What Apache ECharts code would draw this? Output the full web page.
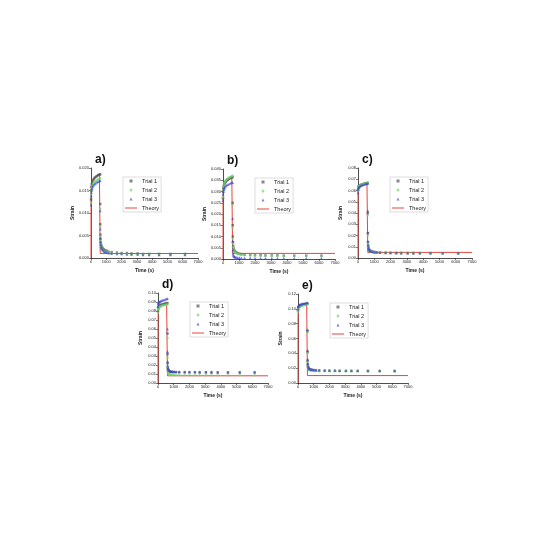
<!DOCTYPE html>
<html>
<head>
<meta charset="utf-8">
<script src="https://cdn.jsdelivr.net/npm/echarts@6/dist/echarts.min.js"></script>
<style>
  html, body { margin: 0; padding: 0; background: #fff; }
  #chart { width: 550px; height: 550px; }
</style>
</head>
<body>
<div id="chart"></div>
<script>
// measurement times (s), shared by all trials
const trialTimes = [0, 10, 25, 50, 80, 120, 170, 230, 300, 380, 460, 540, 600, 604, 608, 615, 625, 640, 660, 690, 730, 780, 850, 930, 1030, 1150, 1350, 1700, 2000, 2350, 2650, 3050, 3400, 3800, 4450, 5200, 6150]
const theoryTimes = [0, 3, 15, 40, 80, 150, 250, 350, 450, 550, 600, 601, 7000]

const panelLabels = ['a)', 'b)', 'c)', 'd)', 'e)']
const yMax = [0.02, 0.04, 0.08, 0.10, 0.12]
const yStep = [0.005, 0.005, 0.01, 0.01, 0.02]
const yDecimals = [3, 3, 2, 2, 2]

const trial1A = [0.0130, 0.0150, 0.0158, 0.0164, 0.0168, 0.0172, 0.0175, 0.0178, 0.0180, 0.0182, 0.0184, 0.0185, 0.0186, 0.0120, 0.0075, 0.0052, 0.0042, 0.0035, 0.0030, 0.0026, 0.0023, 0.0021, 0.0019, 0.0017, 0.0016, 0.0014, 0.0013, 0.0012, 0.0011, 0.0011, 0.0010, 0.0010, 0.0009, 0.0009, 0.0009, 0.0009, 0.0009]
const trial2A = [0.0122, 0.0142, 0.0150, 0.0156, 0.0160, 0.0164, 0.0167, 0.0169, 0.0171, 0.0173, 0.0175, 0.0176, 0.0177, 0.0110, 0.0068, 0.0047, 0.0038, 0.0032, 0.0027, 0.0023, 0.0020, 0.0018, 0.0016, 0.0015, 0.0014, 0.0012, 0.0011, 0.0010, 0.0009, 0.0009, 0.0008, 0.0008, 0.0008, 0.0008, 0.0007, 0.0007, 0.0007]
const trial3A = [0.0118, 0.0138, 0.0146, 0.0151, 0.0155, 0.0159, 0.0162, 0.0164, 0.0166, 0.0168, 0.0170, 0.0171, 0.0172, 0.0105, 0.0064, 0.0045, 0.0036, 0.0030, 0.0025, 0.0022, 0.0019, 0.0017, 0.0015, 0.0014, 0.0013, 0.0011, 0.0010, 0.0009, 0.0009, 0.0008, 0.0008, 0.0008, 0.0007, 0.0007, 0.0007, 0.0007, 0.0007]
const theoryA = [0, 0.0140, 0.0155, 0.0163, 0.0169, 0.0175, 0.0179, 0.0182, 0.0185, 0.0187, 0.0188, 0.0010, 0.0010]

const trial1B = [0.0270, 0.0300, 0.0315, 0.0325, 0.0332, 0.0338, 0.0343, 0.0348, 0.0352, 0.0356, 0.0359, 0.0362, 0.0364, 0.0250, 0.0150, 0.0100, 0.0075, 0.0058, 0.0047, 0.0040, 0.0035, 0.0031, 0.0028, 0.0025, 0.0023, 0.0021, 0.0019, 0.0018, 0.0017, 0.0017, 0.0016, 0.0016, 0.0016, 0.0015, 0.0015, 0.0015, 0.0015]
const trial2B = [0.0275, 0.0305, 0.0320, 0.0330, 0.0338, 0.0344, 0.0349, 0.0354, 0.0358, 0.0362, 0.0365, 0.0368, 0.0370, 0.0240, 0.0140, 0.0090, 0.0068, 0.0052, 0.0042, 0.0036, 0.0031, 0.0028, 0.0025, 0.0023, 0.0021, 0.0019, 0.0017, 0.0016, 0.0015, 0.0015, 0.0014, 0.0014, 0.0014, 0.0013, 0.0013, 0.0013, 0.0013]
const trial3B = [0.0260, 0.0288, 0.0300, 0.0308, 0.0314, 0.0319, 0.0324, 0.0328, 0.0331, 0.0334, 0.0337, 0.0339, 0.0340, 0.0180, 0.0080, 0.0040, 0.0025, 0.0018, 0.0014, 0.0011, 0.0009, 0.0008, 0.0007, 0.0006, 0.0006, 0.0005, 0.0005, 0.0005, 0.0004, 0.0004, 0.0004, 0.0004, 0.0004, 0.0004, 0.0004, 0.0004, 0.0004]
const theoryB = [0, 0.0290, 0.0315, 0.0330, 0.0340, 0.0349, 0.0356, 0.0361, 0.0365, 0.0368, 0.0370, 0.0025, 0.0025]

const trial1C = [0.0600, 0.0625, 0.0632, 0.0637, 0.0641, 0.0645, 0.0649, 0.0653, 0.0656, 0.0659, 0.0662, 0.0665, 0.0667, 0.0400, 0.0220, 0.0140, 0.0110, 0.0090, 0.0080, 0.0072, 0.0066, 0.0062, 0.0058, 0.0055, 0.0053, 0.0051, 0.0049, 0.0047, 0.0046, 0.0045, 0.0045, 0.0044, 0.0044, 0.0044, 0.0044, 0.0043, 0.0043]
const trial2C = [0.0595, 0.0622, 0.0630, 0.0636, 0.0641, 0.0646, 0.0650, 0.0654, 0.0658, 0.0661, 0.0664, 0.0667, 0.0669, 0.0380, 0.0200, 0.0130, 0.0100, 0.0085, 0.0075, 0.0068, 0.0062, 0.0058, 0.0055, 0.0052, 0.0050, 0.0048, 0.0046, 0.0045, 0.0044, 0.0043, 0.0043, 0.0042, 0.0042, 0.0042, 0.0042, 0.0042, 0.0042]
const trial3C = [0.0580, 0.0610, 0.0620, 0.0627, 0.0633, 0.0638, 0.0643, 0.0647, 0.0651, 0.0655, 0.0658, 0.0661, 0.0663, 0.0420, 0.0230, 0.0150, 0.0115, 0.0095, 0.0082, 0.0073, 0.0067, 0.0062, 0.0058, 0.0055, 0.0052, 0.0050, 0.0048, 0.0046, 0.0045, 0.0045, 0.0044, 0.0044, 0.0044, 0.0043, 0.0043, 0.0043, 0.0043]
const theoryC = [0, 0.0560, 0.0600, 0.0620, 0.0635, 0.0648, 0.0658, 0.0665, 0.0670, 0.0674, 0.0676, 0.0050, 0.0050]

const trial1D = [0.0800, 0.0830, 0.0840, 0.0848, 0.0855, 0.0861, 0.0866, 0.0870, 0.0874, 0.0878, 0.0882, 0.0885, 0.0888, 0.0550, 0.0320, 0.0220, 0.0175, 0.0152, 0.0140, 0.0133, 0.0128, 0.0125, 0.0123, 0.0122, 0.0121, 0.0120, 0.0120, 0.0120, 0.0119, 0.0119, 0.0119, 0.0119, 0.0118, 0.0118, 0.0118, 0.0118, 0.0118]
const trial2D = [0.0780, 0.0815, 0.0826, 0.0834, 0.0841, 0.0847, 0.0852, 0.0857, 0.0861, 0.0865, 0.0868, 0.0871, 0.0873, 0.0500, 0.0280, 0.0180, 0.0140, 0.0120, 0.0108, 0.0101, 0.0097, 0.0094, 0.0092, 0.0091, 0.0090, 0.0089, 0.0088, 0.0088, 0.0087, 0.0087, 0.0087, 0.0087, 0.0087, 0.0087, 0.0087, 0.0087, 0.0087]
const trial3D = [0.0850, 0.0880, 0.0888, 0.0895, 0.0900, 0.0905, 0.0910, 0.0915, 0.0920, 0.0925, 0.0930, 0.0934, 0.0937, 0.0600, 0.0350, 0.0240, 0.0190, 0.0165, 0.0150, 0.0142, 0.0137, 0.0133, 0.0130, 0.0128, 0.0127, 0.0126, 0.0125, 0.0124, 0.0123, 0.0123, 0.0122, 0.0122, 0.0122, 0.0121, 0.0121, 0.0121, 0.0121]
const theoryD = [0, 0.0700, 0.0780, 0.0815, 0.0835, 0.0850, 0.0860, 0.0867, 0.0873, 0.0877, 0.0880, 0.0080, 0.0080]

const trial1E = [0.0980, 0.1010, 0.1020, 0.1028, 0.1035, 0.1041, 0.1046, 0.1051, 0.1055, 0.1059, 0.1063, 0.1066, 0.1068, 0.0700, 0.0420, 0.0300, 0.0250, 0.0220, 0.0202, 0.0192, 0.0185, 0.0180, 0.0177, 0.0175, 0.0173, 0.0171, 0.0169, 0.0167, 0.0166, 0.0165, 0.0164, 0.0164, 0.0163, 0.0163, 0.0162, 0.0162, 0.0162]
const trial2E = [0.0960, 0.0995, 0.1006, 0.1015, 0.1022, 0.1029, 0.1035, 0.1040, 0.1045, 0.1049, 0.1053, 0.1056, 0.1058, 0.0680, 0.0400, 0.0280, 0.0230, 0.0205, 0.0190, 0.0180, 0.0174, 0.0170, 0.0167, 0.0165, 0.0163, 0.0161, 0.0160, 0.0159, 0.0158, 0.0158, 0.0157, 0.0157, 0.0157, 0.0157, 0.0156, 0.0156, 0.0156]
const trial3E = [0.1000, 0.1030, 0.1040, 0.1047, 0.1053, 0.1058, 0.1063, 0.1067, 0.1071, 0.1075, 0.1078, 0.1081, 0.1083, 0.0720, 0.0440, 0.0320, 0.0265, 0.0232, 0.0212, 0.0200, 0.0192, 0.0186, 0.0182, 0.0179, 0.0177, 0.0175, 0.0173, 0.0171, 0.0170, 0.0169, 0.0168, 0.0168, 0.0167, 0.0167, 0.0167, 0.0166, 0.0166]
const theoryE = [0, 0.0880, 0.0960, 0.1000, 0.1025, 0.1043, 0.1055, 0.1063, 0.1069, 0.1073, 0.1075, 0.0100, 0.0100]

const trial1 = [trial1A, trial1B, trial1C, trial1D, trial1E]
const trial2 = [trial2A, trial2B, trial2C, trial2D, trial2E]
const trial3 = [trial3A, trial3B, trial3C, trial3D, trial3E]
const theory = [theoryA, theoryB, theoryC, theoryD, theoryE]

// plot boxes in pixels: left, top, width, height
const boxes = [
  [91, 168, 107, 90],
  [223, 169, 112, 90],
  [358, 168, 114, 90],
  [158, 293, 110, 90],
  [298, 294, 110, 89],
]

const FONT = 'Liberation Sans'
const SQUARE = 'path://M0,0L1,0L1,1L0,1Z'
const TRIANGLE = 'path://M0.5,0L1,1L0,1Z'
const RED_LINE = 'path://M0,0L24,0L24,2L0,2Z'
const zip = (xs, ys) => xs.map((x, i) => [x, ys[i]])

const myChart = echarts.init(document.getElementById('chart'))

const grid = [], xAxis = [], yAxis = [], series = [], title = [], legend = []
boxes.forEach((b, i) => {
  grid.push({ left: b[0], top: b[1], width: b[2], height: b[3] })
  xAxis.push({
    type: 'value', gridIndex: i, min: 0, max: 7000, interval: 1000,
    name: 'Time (s)', nameLocation: 'middle', nameGap: 10,
    nameTextStyle: { fontSize: 5, fontFamily: FONT, fontWeight: 'bold', color: '#222' },
    axisLine: { lineStyle: { color: '#222', width: 0.8 } },
    axisTick: { length: 2, lineStyle: { color: '#222', width: 0.6 } },
    axisLabel: { fontSize: 4, fontFamily: FONT, color: '#222', margin: 2,
      hideOverlap: false, formatter: v => String(v) },
    splitLine: { show: false },
  })
  yAxis.push({
    type: 'value', gridIndex: i, min: 0, max: yMax[i], interval: yStep[i],
    name: 'Strain', nameLocation: 'middle', nameGap: 15,
    nameTextStyle: { fontSize: 5, fontFamily: FONT, fontWeight: 'bold', color: '#222' },
    axisLine: { show: true, lineStyle: { color: '#222', width: 0.8 } },
    axisTick: { show: true, length: 2, lineStyle: { color: '#222', width: 0.6 } },
    axisLabel: { fontSize: 4, fontFamily: FONT, color: '#222', margin: 2, hideOverlap: false,
      formatter: v => v.toFixed(yDecimals[i]) },
    splitLine: { show: false },
  })
  title.push({
    text: panelLabels[i], left: b[0] - 1, top: b[1] - 19,
    textStyle: { fontSize: 12, fontWeight: 'bold', fontFamily: FONT, color: '#111' },
  })
  legend.push({
    data: [
      { name: 'Trial 1', icon: SQUARE },
      { name: 'Trial 2', icon: 'circle' },
      { name: 'Trial 3', icon: TRIANGLE },
      { name: 'Theory', icon: RED_LINE },
    ],
    orient: 'vertical', left: b[0] + 32, top: b[1] + 9,
    itemWidth: 12, itemHeight: 3, itemGap: 3,
    padding: [1, 2], borderColor: '#bbb', borderWidth: 0.5,
    selectedMode: false,
    textStyle: { fontSize: 5.5, fontFamily: FONT, color: '#222' },
  })
  series.push(
    { name: 'Trial 1', type: 'scatter', xAxisIndex: i, yAxisIndex: i, data: zip(trialTimes, trial1[i]),
      symbol: 'rect', symbolSize: 2.5, itemStyle: { color: 'rgba(80,80,80,0.85)' }, z: 3 },
    { name: 'Trial 2', type: 'scatter', xAxisIndex: i, yAxisIndex: i, data: zip(trialTimes, trial2[i]),
      symbol: 'circle', symbolSize: 2.5, itemStyle: { color: 'rgba(110,215,110,0.85)' }, z: 3 },
    { name: 'Trial 3', type: 'scatter', xAxisIndex: i, yAxisIndex: i, data: zip(trialTimes, trial3[i]),
      symbol: 'triangle', symbolSize: 2.8, itemStyle: { color: 'rgba(60,70,210,0.85)' }, z: 3 },
    { name: 'Theory', type: 'line', xAxisIndex: i, yAxisIndex: i, data: zip(theoryTimes, theory[i]),
      symbol: 'none', lineStyle: { color: '#e8453c', width: 1 }, itemStyle: { color: '#e8453c' }, z: 2 },
  )
})

myChart.setOption({
  backgroundColor: '#fff',
  animation: false,
  title, legend, grid, xAxis, yAxis, series,
})
</script>
</body>
</html>
